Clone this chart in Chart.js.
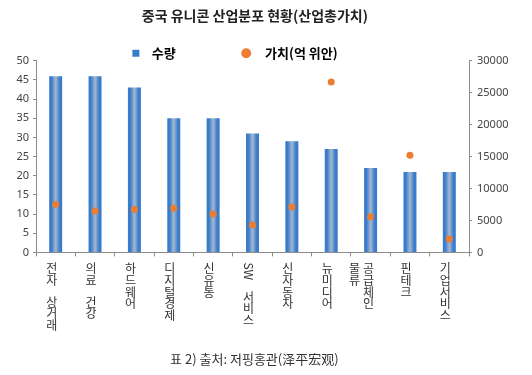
<!DOCTYPE html>
<html>
<head>
<meta charset="utf-8">
<script src="https://cdn.jsdelivr.net/npm/chart.js@4.4.1/dist/chart.umd.min.js"></script>
<style>
  html, body { margin: 0; padding: 0; background: #fff; }
  #wrap { width: 532px; height: 375px; }
</style>
</head>
<body>
<div id="wrap"><canvas id="myChart" width="532" height="375"></canvas></div>
<script>
// 업종 (줄바꿈 = 세로쓰기에서 다음 열)
const categories = ['전자 상거래', '의료 건강', '하드웨어', '디지털경제', '신유통', 'SW 서비스',
    '신자동차', '뉴미디어', '공급체인\n물류', '핀테크', '기업서비스'];
// 유니콘 수량 (왼쪽 축)
const counts = [46, 46, 43, 35, 35, 31, 29, 27, 22, 21, 21];
// 가치, 억 위안 (오른쪽 축)
const values = [7500, 6500, 6700, 6900, 6000, 4300, 7100, 26700, 5600, 15200, 2100];
const leftTicks = [0, 50, 5];
const rightTicks = [0, 30000, 2500];

const KR = '"Noto Sans CJK KR", "Noto Sans CJK SC", sans-serif';
const NUM = '"Noto Sans", "Noto Sans CJK KR", sans-serif';
const axisColor = '#8c8c8c';
const barEdge = '#3a7bcc';
const barMid = '#a3b9cf';
const dotColor = '#ed7d31';
const BAR_PCT = 0.33;
const sp = n => '\u00a0'.repeat(n);

// 막대 가로 그라데이션 (가장자리 파랑, 가운데 회청색)
function barFill(ctx) {
    const chart = ctx.chart;
    const xs = chart.scales.x;
    if (!chart.chartArea || !xs || ctx.type !== 'data') return barEdge;
    const cx = xs.getPixelForValue(ctx.dataIndex);
    const w = xs.width / categories.length * BAR_PCT;
    const g = chart.ctx.createLinearGradient(cx - w / 2, 0, cx + w / 2, 0);
    g.addColorStop(0, barEdge);
    g.addColorStop(0.18, barEdge);
    g.addColorStop(0.5, barMid);
    g.addColorStop(0.82, barEdge);
    g.addColorStop(1, barEdge);
    return g;
}

// 범례를 플롯 위쪽에 붙도록 조금 내림
const legendNudge = {
    id: 'legendNudge',
    afterLayout(chart) {
        const lg = chart.legend;
        if (!lg) return;
        lg.top += 9;
        lg.bottom += 9;
        (lg.legendHitBoxes || []).forEach(b => { b.top += 9; });
    }
};

// x축 라벨: 세로쓰기 (한글은 세워서, 영문은 90도 회전)
const verticalLabels = {
    id: 'verticalLabels',
    afterDraw(chart) {
        const xs = chart.scales.x;
        const c = chart.ctx;
        const pitch = 11.8;
        c.save();
        c.font = '12px ' + KR;
        c.fillStyle = '#333';
        c.textAlign = 'center';
        c.textBaseline = 'top';
        categories.forEach((lab, i) => {
            const cols = lab.split('\n');
            const cx = xs.getPixelForValue(i) - 4 - (cols.length - 1) * 5;
            cols.forEach((col, k) => {
                const x = cx - (k - (cols.length - 1) / 2) * 14;
                let y = xs.top + 10;
                const parts = col.match(/[A-Za-z]+|./g);
                parts.forEach(p => {
                    if (/^[A-Za-z]+$/.test(p)) {
                        const w = c.measureText(p).width;
                        c.save();
                        c.translate(x, y + w / 2);
                        c.rotate(Math.PI / 2);
                        c.textBaseline = 'middle';
                        c.fillText(p, 0, 0);
                        c.restore();
                        y += w + 1;
                    } else if (p === ' ') {
                        y += 10;
                    } else {
                        c.fillText(p, x, y);
                        y += pitch;
                    }
                });
            });
        });
        c.restore();
    }
};

const chartData = {
    labels: categories,
    datasets: [{
        type: 'bar',
        label: '수량',
        data: counts,
        yAxisID: 'y',
        backgroundColor: barFill,
        barPercentage: BAR_PCT,
        categoryPercentage: 1,
        order: 1
    }, {
        type: 'line',
        label: '가치(억 위안)',
        data: values,
        yAxisID: 'y1',
        showLine: false,
        pointRadius: 3.5,
        pointBackgroundColor: dotColor,
        pointBorderWidth: 0,
        borderColor: dotColor,
        backgroundColor: dotColor,
        order: 0
    }]
};

const config = {
    data: chartData,
    plugins: [verticalLabels, legendNudge],
    options: {
        responsive: false,
        animation: false,
        layout: { padding: { left: 0, right: 0, top: 0, bottom: 4 } },
        plugins: {
            title: {
                display: true,
                text: '중국 유니콘 산업분포 현황(산업총가치)' + sp(7),
                color: '#222',
                font: { family: KR, size: 14, weight: 'bold' },
                padding: { top: 7, bottom: 12 }
            },
            subtitle: {
                display: true,
                position: 'bottom',
                text: '표 2) 출처: 저핑홍관(泽平宏观)' + sp(8),
                color: '#333',
                font: { family: KR, size: 13 },
                padding: { top: 2, bottom: 4 }
            },
            legend: {
                labels: {
                    font: { family: KR, size: 13, weight: 'bold' },
                    color: '#222',
                    usePointStyle: true,
                    boxHeight: 7,
                    padding: 2,
                    generateLabels(chart) {
                        return [{
                            text: sp(1) + '수량' + sp(21),
                            fillStyle: barEdge, strokeStyle: barEdge, lineWidth: 0,
                            pointStyle: 'rect', datasetIndex: 0
                        }, {
                            text: sp(2) + '가치(억 위안)' + sp(22),
                            fillStyle: dotColor, strokeStyle: dotColor, lineWidth: 0,
                            pointStyle: 'circle', datasetIndex: 1
                        }];
                    }
                }
            },
            tooltip: { enabled: false }
        },
        scales: {
            x: {
                ticks: { display: false },
                grid: { offset: true, drawOnChartArea: false, tickLength: 4, color: axisColor },
                border: { color: axisColor },
                afterFit(scale) { scale.height = 97; }
            },
            y: {
                position: 'left',
                min: leftTicks[0], max: leftTicks[1],
                ticks: { stepSize: leftTicks[2], color: '#444', font: { family: NUM, size: 11 }, padding: 4 },
                grid: { drawOnChartArea: false, tickLength: 3, color: axisColor },
                border: { color: axisColor },
                afterFit(scale) { scale.width = 36; }
            },
            y1: {
                position: 'right',
                min: rightTicks[0], max: rightTicks[1],
                ticks: {
                    stepSize: rightTicks[2], color: '#444', font: { family: NUM, size: 11 }, padding: 5,
                    callback: v => (v % 5000 === 0 ? v : '')
                },
                grid: { drawOnChartArea: false, tickLength: 3, color: axisColor },
                border: { color: axisColor },
                afterFit(scale) { scale.width = 63; }
            }
        }
    }
};

new Chart('myChart', config);
</script>
</body>
</html>
